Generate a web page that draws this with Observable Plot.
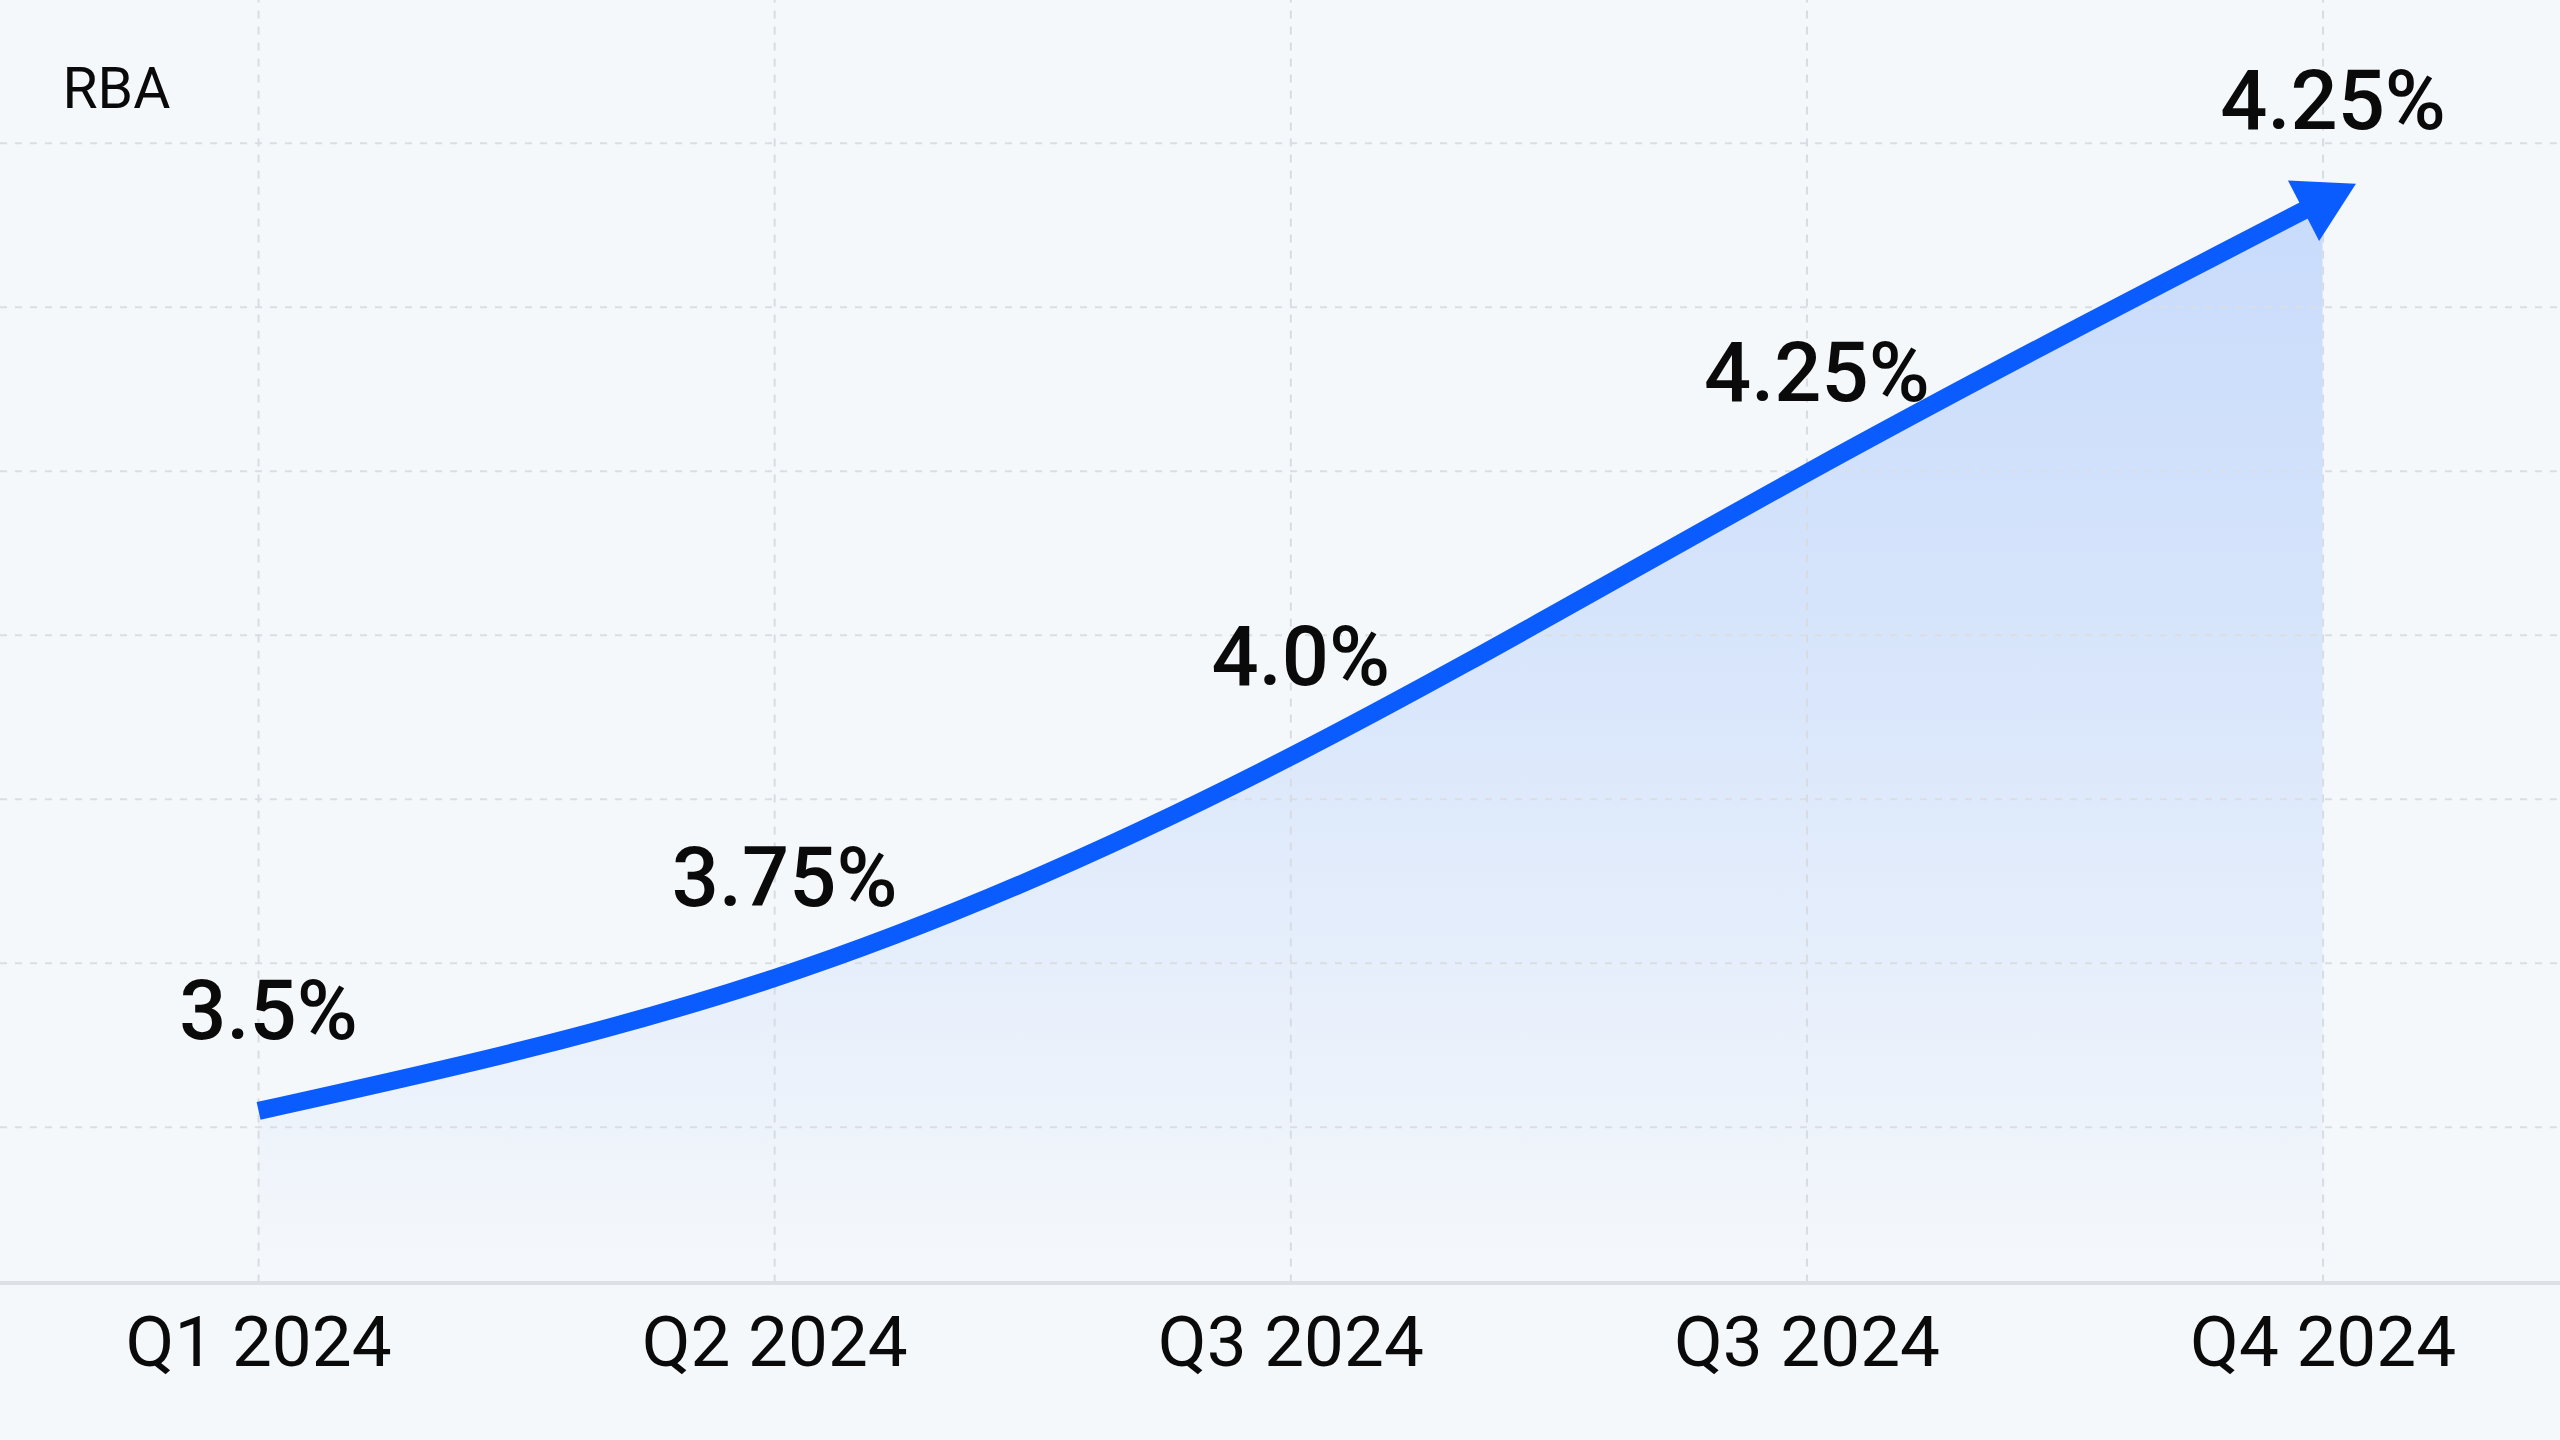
<!DOCTYPE html>
<html>
<head>
<meta charset="utf-8">
<script src="https://cdn.jsdelivr.net/npm/d3@7"></script>
<script src="https://cdn.jsdelivr.net/npm/@observablehq/plot@0.6"></script>
<style>
  html, body { margin: 0; padding: 0; background: #f5f8fb; }
  #chart svg { display: block; }
</style>
</head>
<body>
<div id="chart"></div>
<script>
const title = "RBA";
const quarters = ["Q1 2024", "Q2 2024", "Q3 2024", "Q3 2024", "Q4 2024"];
const rateLabels = ["3.5%", "3.75%", "4.0%", "4.25%", "4.25%"];
// drawn height of the curve at each quarter, in grid steps
const curveLevel = [0.10, 0.91, 2.26, 3.99, 5.65];
const gridLevels = [0, 1, 2, 3, 4, 5, 6];
const baselineLevel = -0.95;
const yDomain = [-1.91, 6.87];
const xDomain = [-0.5, 4.46];

const points = quarters.map((q, i) => ({i, q, level: curveLevel[i], label: rateLabels[i]}));

const chart = Plot.plot({
  width: 2560,
  height: 1440,
  margin: 0,
  style: {background: "#f5f8fb", fontFamily: "Roboto, 'Noto Sans', sans-serif", color: "#000"},
  x: {domain: xDomain, axis: null},
  y: {domain: yDomain, axis: null},
  marks: [
    Plot.areaY(points, {x: "i", y1: baselineLevel, y2: "level", curve: "natural", fill: "url(#areaGrad)"}),
    Plot.ruleY(gridLevels, {stroke: "#dadee3", strokeWidth: 2, strokeDasharray: "7 8"}),
    Plot.ruleX(points, {x: "i", y1: baselineLevel, y2: yDomain[1], stroke: "#d8dce2", strokeWidth: 2, strokeDasharray: "8 8"}),
    Plot.ruleY([baselineLevel], {stroke: "#dde1e6", strokeWidth: 4}),
    Plot.line(points, {x: "i", y: "level", curve: "natural", stroke: "#0b5cff", strokeWidth: 18, strokeLinecap: "butt"}),
    Plot.text(points, {x: "i", y: "level", text: "label", dx: 10, dy: -72, lineAnchor: "bottom", fontSize: 83, fontWeight: 500, fill: "#0a0a0a"}),
    Plot.text(points, {x: "i", text: "q", frameAnchor: "bottom", lineAnchor: "bottom", dy: -75, fontSize: 71, fontWeight: 400, fill: "#0a0a0a"}),
    Plot.text([title], {frameAnchor: "top-left", lineAnchor: "bottom", textAnchor: "start", dx: 62, dy: 107, fontSize: 57, fontWeight: 400, fill: "#0a0a0a"})
  ]
});

const svg = d3.select(chart);
const defs = svg.insert("defs", ":first-child");
const grad = defs.append("linearGradient").attr("id", "areaGrad").attr("x1", 0).attr("y1", 0).attr("x2", 0).attr("y2", 1);
grad.append("stop").attr("offset", "0%").attr("stop-color", "#c8dbfb");
grad.append("stop").attr("offset", "45%").attr("stop-color", "#d9e6fb");
grad.append("stop").attr("offset", "100%").attr("stop-color", "#f5f8fb");
defs.append("marker")
  .attr("id", "arrowHead")
  .attr("markerUnits", "userSpaceOnUse")
  .attr("viewBox", "-30 -40 80 80")
  .attr("markerWidth", 80)
  .attr("markerHeight", 80)
  .attr("refX", 0)
  .attr("refY", 0)
  .attr("orient", "auto")
  .append("path")
  .attr("d", "M-22,-34L37,0L-22,34Z")
  .attr("fill", "#0b5cff");
svg.select('g[aria-label="line"] path').attr("marker-end", "url(#arrowHead)");

document.getElementById("chart").appendChild(chart);
</script>
</body>
</html>
